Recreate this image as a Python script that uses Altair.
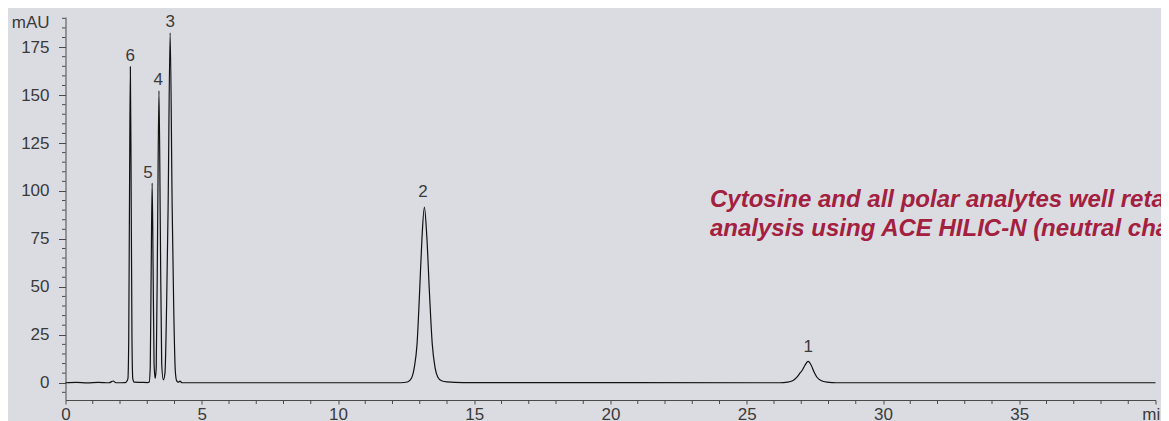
import altair as alt
import pandas as pd

# Chromatogram trace (retention time in min, absorbance in mAU)
time = [0.0, 0.4, 0.8, 1.2, 1.6, 1.75, 1.85, 2.2,
        2.29, 2.32, 2.35, 2.38, 2.41, 2.44, 2.47, 2.52, 2.8, 3.0,
        3.07, 3.11, 3.145, 3.18, 3.215, 3.25, 3.29,
        3.33, 3.38, 3.43, 3.48, 3.53, 3.59,
        3.65, 3.71, 3.765, 3.84, 3.915, 3.97, 4.03, 4.08, 4.14, 4.2, 4.28,
        12.3, 12.55, 12.7, 12.8, 12.9, 12.99, 13.08, 13.17, 13.26, 13.36, 13.46, 13.56, 13.66, 13.8, 14.0, 14.6,
        26.2, 26.5, 26.7, 26.85, 26.95, 27.03, 27.13, 27.25, 27.37, 27.47, 27.57, 27.72, 27.95, 28.3,
        40.0]
signal = [0.0, 0.2, -0.1, 0.2, 0.0, 0.9, 0.0, 0.1,
          2.0, 22.0, 100.0, 164.7, 100.0, 22.0, 2.0, 0.3, 0.2, 0.1,
          0.3, 8.0, 60.0, 104.1, 60.0, 10.0, 2.2,
          8.0, 80.0, 152.2, 80.0, 10.0, 1.5,
          5.0, 40.0, 91.0, 182.5, 91.0, 40.0, 6.0, 1.0, 0.3, 0.8, 0.0,
          0.0, 0.4, 2.5, 8.0, 20.0, 45.8, 75.0, 91.6, 76.0, 45.8, 20.0, 8.0, 3.0, 1.0, 0.4, 0.1,
          0.0, 0.3, 1.2, 3.0, 5.0, 6.4, 9.0, 11.1, 9.0, 5.55, 3.0, 1.2, 0.3, 0.0,
          0.0]

# Peak numbers and where they sit
peak_names = ["6", "5", "4", "3", "2", "1"]
peak_label_t = [2.38, 3.03, 3.40, 3.84, 13.12, 27.26]
peak_label_y = [167.9, 107.0, 155.2, 185.6, 96.8, 15.8]

# Annotation
note_lines = ["Cytosine and all polar analytes well retained",
              "analysis using ACE HILIC-N (neutral charge)"]
note_t = [23.65]
note_y = [91.6]

# Axis ticks
x_major = [0, 5, 10, 15, 20, 25, 30, 35, 40]
x_minor = [1, 2, 3, 4, 6, 7, 8, 9, 11, 12, 13, 14, 16, 17, 18, 19, 21, 22, 23, 24,
           26, 27, 28, 29, 31, 32, 33, 34, 36, 37, 38, 39]
y_major = [0, 25, 50, 75, 100, 125, 150, 175]
y_minor = [-5, 5, 10, 15, 20, 30, 35, 40, 45, 55, 60, 65, 70, 80, 85, 90, 95,
           105, 110, 115, 120, 130, 135, 140, 145, 155, 160, 165, 170, 180, 185, 190]

FONT = "Liberation Sans"
AX = "#4a4a4a"
LBL = "#3a3a3a"
FS = 17

x_scale = alt.Scale(domain=[0, 40], nice=False, zero=False)
y_scale = alt.Scale(domain=[-9, 190.7], nice=False, zero=False)

trace = pd.DataFrame({"t": time, "mAU": signal})

line = alt.Chart(trace).mark_line(
    color="#111111", strokeWidth=1.2, interpolate="monotone"
).encode(
    x=alt.X("t:Q", scale=x_scale, axis=alt.Axis(
        values=x_major, tickSize=4, labelPadding=2, grid=False, title=None,
        labelFlush=False, labelOverlap=False,
        labelExpr="datum.value == 40 ? 'min' : datum.label")),
    y=alt.Y("mAU:Q", scale=y_scale, axis=alt.Axis(
        values=y_major, tickSize=7, labelPadding=9.5, grid=False,
        labelOverlap=False,
        title="mAU", titleAngle=0, titleAlign="right", titleBaseline="middle",
        titleX=-16.5, titleY=5, titleFont=FONT, titleFontSize=FS,
        titleFontWeight="normal", titleColor=LBL)),
)

minor_y = alt.Chart(pd.DataFrame({"mAU": y_minor})).mark_rule(
    color=AX, strokeWidth=1
).encode(
    y=alt.Y("mAU:Q", scale=y_scale),
    x=alt.value(-3.5), x2=alt.value(0),
)

minor_x = alt.Chart(pd.DataFrame({"t": x_minor})).mark_rule(
    color=AX, strokeWidth=1
).encode(
    x=alt.X("t:Q", scale=x_scale),
    y=alt.value(383), y2=alt.value(387),
)

peaks = alt.Chart(pd.DataFrame({"t": peak_label_t, "mAU": peak_label_y, "txt": peak_names})).mark_text(
    font=FONT, fontSize=FS, color=LBL, align="center", baseline="alphabetic"
).encode(
    x=alt.X("t:Q", scale=x_scale),
    y=alt.Y("mAU:Q", scale=y_scale),
    text="txt:N",
)

note = alt.Chart(pd.DataFrame({"t": note_t, "mAU": note_y, "txt": ["\n".join(note_lines)]})).mark_text(
    font=FONT, fontSize=24, fontStyle="italic", fontWeight="bold", color="#A3203F",
    align="left", baseline="alphabetic", lineBreak="\n", lineHeight=28.5
).encode(
    x=alt.X("t:Q", scale=x_scale),
    y=alt.Y("mAU:Q", scale=y_scale),
    text="txt:N",
)

chart = alt.layer(line, minor_y, minor_x, peaks, note).properties(
    width=1090, height=383,
    padding={"left": 57.5, "top": 9, "right": 5.5, "bottom": 21},
    autosize=alt.AutoSizeParams(type="none"),
    background="#DBDCE2",
).configure_view(stroke=None).configure_axis(
    domainColor=AX, tickColor=AX, domainWidth=1, tickWidth=1,
    labelFont=FONT, labelFontSize=FS, labelColor=LBL,
)

chart.save("out.html", embed_options={"renderer": "svg", "actions": False})
